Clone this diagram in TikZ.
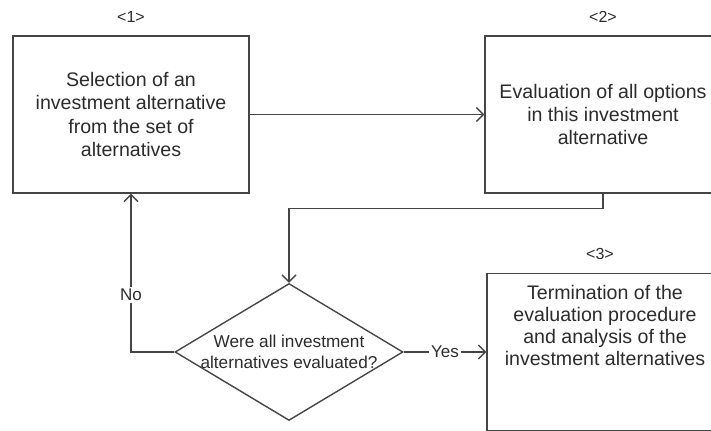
\documentclass[tikz,border=0pt]{standalone}
\usepackage{fontspec}
\setmainfont{Liberation Sans}
\usetikzlibrary{arrows.meta,shapes.geometric,calc}
\definecolor{flowline}{HTML}{454545}
\definecolor{flowtext}{HTML}{2B2B2B}

\begin{document}
\begin{tikzpicture}[x=0.5pt,y=-0.5pt,>={Straight Barb[length=3.5pt,width=7pt]},
 box/.style={draw=flowline,line width=0.7pt,minimum width=118pt,minimum height=78.5pt,inner sep=0pt,align=center,text=flowtext,font=\fontsize{9.8}{11.6}\selectfont},
 boxtext/.style={align=center,text=flowtext,font=\fontsize{9.8}{11}\selectfont},
 decision/.style={diamond,draw=flowline,line width=0.7pt,minimum width=114pt,minimum height=68.5pt,inner sep=0pt},
 dectext/.style={align=center,text=flowtext,font=\fontsize{8.6}{10.5}\selectfont},
 numtag/.style={label distance=3pt,text=flowtext,font=\fontsize{8}{9}\selectfont},
 flow/.style={->,draw=flowline,line width=0.7pt},
 answer/.style={fill=white,inner sep=1pt,text=flowtext,font=\fontsize{8.5}{10}\selectfont}]
\useasboundingbox (0,0) rectangle (711,431);
\clip (0,0) rectangle (711,431);
% steps
\node[box,label={[numtag]above:<1>}](sel) at (131,114.5){Selection of an\\investment alternative\\from the set of\\alternatives};
\node[box,label={[numtag]above:<2>}](eval) at (603,114.5){Evaluation of all options\\in this investment\\alternative};
\node[decision,label={[dectext]center:Were all investment\\alternatives evaluated?}](check) at (289,352){};
\node[box,label={[numtag,xshift=-2.5pt]above:<3>},label={[boxtext,yshift=13.25pt]center:Termination of the\\evaluation procedure\\and analysis of the\\investment alternatives}](term) at (605,352){};
% connectors
\draw[flow](sel)--(eval);
\draw[flow](eval.south)--++(0,15)-|(check.north);
\draw[flow](check.west)-|node[answer,pos=0.68]{No}(sel.south);
\draw[flow](check)--node[answer]{Yes}(term);
\end{tikzpicture}
\end{document}
